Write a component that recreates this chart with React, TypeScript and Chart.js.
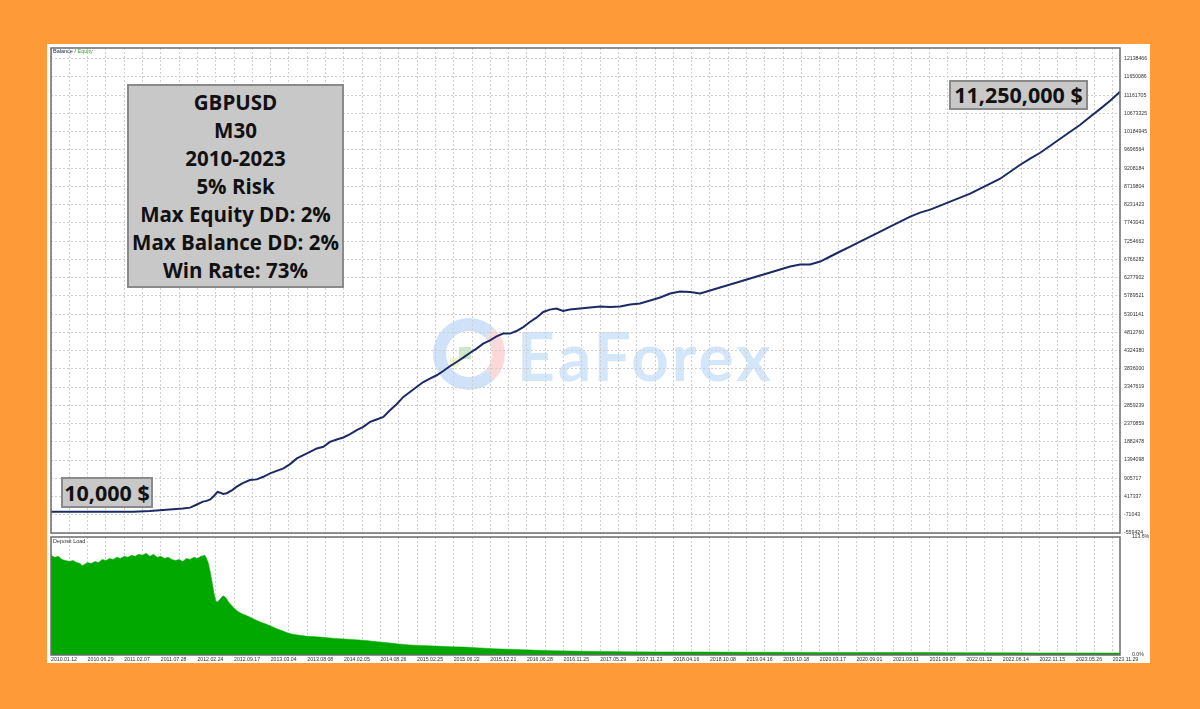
import React, { useEffect, useRef } from 'react';
import { Chart, registerables } from 'chart.js';
Chart.register(...registerables);

// ---------- data ----------
const xLabels = [
  '2010.01.12', '2010.06.29', '2011.02.07', '2011.07.28', '2012.02.24', '2012.09.17',
  '2013.03.04', '2013.08.08', '2014.02.05', '2014.08.26', '2015.02.25', '2015.06.22',
  '2015.12.21', '2016.06.28', '2016.11.25', '2017.05.29', '2017.11.23', '2018.04.16',
  '2018.10.08', '2019.04.16', '2019.10.18', '2020.03.17', '2020.09.01', '2021.03.11',
  '2021.09.07', '2022.01.12', '2022.06.14', '2022.11.15', '2023.05.26', '2023.11.29',
];

const balanceTicks = [
  -559424, -71043, 417337, 905717, 1394098, 1882478, 2370859, 2859239, 3347619,
  3836000, 4324380, 4812760, 5301141, 5789521, 6277902, 6766282, 7254662, 7743043,
  8231423, 8719804, 9208184, 9696564, 10184945, 10673325, 11161705, 11650086, 12138466,
];
const balanceMin = -559424;
const balanceMax = 12424000;

const loadTicks = [0, 113.6];

const equityIdx = [
  0, 9, 18, 27, 36, 45, 54, 63, 72, 76, 80, 83, 85, 87, 89, 91, 92.5, 94, 96, 99,
  101.5, 105, 108.7, 112.4, 116, 119.7, 123.3, 127, 130.6, 134.3, 137.9, 141.5, 145.2,
  148.8, 152.4, 156.1, 159.7, 163.4, 167, 170.6, 174.3, 177.9, 181.6, 185.2, 188.8,
  192.5, 196.1, 199.7, 203.4, 207, 210.7, 214.3, 217.9, 221.6, 225.2, 228.8, 232.5,
  236.1, 239.8, 243.4, 247, 250.7, 254.3, 258, 261.6, 265.2, 268.9, 272.5, 276.1,
  279.8, 283.4, 289, 294.5, 300, 305.4, 310.9, 316.4, 321.8, 327.3, 332.8, 338.2,
  343.7, 349.2, 354.6, 360.1, 365.5, 371, 376.5, 381.9, 387.4, 392.9, 398.3, 403.8,
  409.3, 414.7, 420.2, 425.7, 431.1, 436.6, 442, 447.5, 453, 458.4, 463.9, 469.4,
  474.8, 480.3, 485.8, 491.2, 496.7, 502.1, 507.6, 513.1, 518.5, 524, 529.5, 534.9,
  540.4, 545.9, 551.3, 556.8, 562.3, 567.7, 573.2, 578.6, 584,
];
const equityVal = [
  10000, 9800, 9400, 9100, 9000, 11000, 30000, 60000, 95000, 120000, 210000, 280000,
  300000, 340000, 430000, 540000, 520000, 485000, 505000, 590000, 680000, 785000,
  857000, 876000, 945000, 1036000, 1105000, 1169000, 1284000, 1436000, 1525000,
  1613000, 1704000, 1747000, 1880000, 1945000, 1998000, 2086000, 2193000, 2281000,
  2415000, 2479000, 2548000, 2727000, 2888000, 3083000, 3216000, 3350000, 3483000,
  3574000, 3663000, 3778000, 3904000, 4019000, 4136000, 4259000, 4377000, 4510000,
  4599000, 4706000, 4778000, 4778000, 4847000, 4954000, 5088000, 5205000, 5358000,
  5421000, 5448000, 5384000, 5421000, 5452000, 5479000, 5505000, 5492000, 5505000,
  5559000, 5585000, 5666000, 5746000, 5853000, 5906000, 5893000, 5853000, 5933000,
  6013000, 6093000, 6173000, 6254000, 6334000, 6414000, 6494000, 6574000, 6628000,
  6628000, 6708000, 6842000, 6976000, 7109000, 7243000, 7376000, 7510000, 7644000,
  7777000, 7911000, 8017000, 8098000, 8204000, 8311000, 8418000, 8524000, 8658000,
  8792000, 8925000, 9112000, 9299000, 9460000, 9620000, 9807000, 9994000, 10181000,
  10368000, 10582000, 10795000, 11009000, 11250000,
];

const loadIdx = [
  0, 2, 4, 6, 8, 10, 12, 14, 16, 17, 18, 20, 22, 24, 26, 28, 30, 32, 34, 36, 38, 40,
  42, 44, 46, 48, 50, 52, 54, 56, 58, 60, 62, 64, 66, 68, 70, 72, 74, 76, 78, 80, 82,
  84, 85, 86, 87, 88, 89, 90, 91, 92, 93, 94, 95, 96, 97, 98, 100, 102, 104, 106, 108,
  111, 114, 117, 120, 123, 126, 129, 132, 136, 140, 145, 150, 155, 160, 166, 172, 178,
  184, 190, 196, 202, 210, 218, 226, 234, 242, 250, 258, 266, 274, 282, 290, 300, 315,
  330, 345, 360, 380, 400, 420, 440, 460, 480, 500, 520, 540, 560, 584,
];
const loadPct = [
  96, 94, 95, 92, 91, 90, 91, 89, 88, 86, 87, 89, 88, 90, 89, 92, 91, 93, 92, 94, 93, 95,
  94, 96, 95, 97, 96, 98, 95, 97, 94, 95, 93, 94, 92, 91, 92, 90, 93, 92, 94, 93, 95,
  96, 93, 88, 80, 70, 60, 52, 51, 53, 55, 57, 56, 54, 51, 49, 45, 42, 40, 38.5, 37,
  34.5, 32, 30, 28, 25.5, 23.5, 21.5, 20, 19, 18, 17.5, 16.8, 16, 15.5, 14.8, 14, 12.8,
  11.8, 10.5, 9.7, 9.2, 8.6, 8.0, 7.6, 6.8, 6.0, 5.6, 5.0, 4.6, 4.2, 3.9, 3.6, 3.4, 3.1,
  3.0, 2.9, 2.8, 2.7, 2.6, 2.5, 2.4, 2.3, 2.3, 2.2, 2.1, 2.0, 2.0, 1.9,
];

const X_MAX = 584;
const GRID_STEP = 10;
const LABEL_STEP = 20;

// ---------- styling helpers ----------
const GRID_COLOR = '#cfcfcf';
const TICK_FONT = { family: 'Liberation Sans', size: 5.2 };
const TICK_COLOR = '#333';

const framePlugin = {
  id: 'frame',
  afterDraw(chart: any) {
    const { ctx, chartArea: a } = chart;
    ctx.save();
    ctx.strokeStyle = '#6c6c6c';
    ctx.lineWidth = 1.5;
    ctx.strokeRect(a.left, a.top, a.right - a.left, a.bottom - a.top);
    ctx.restore();
  },
};

function gridTicks() {
  const t: { value: number }[] = [];
  for (let v = 0; v <= X_MAX; v += GRID_STEP) t.push({ value: v });
  return t;
}

const fitY = (s: any) => {
  s.width = 30;
  s.paddingTop = 0;
  s.paddingBottom = 0;
};

function BalanceChart() {
  const ref = useRef<HTMLCanvasElement>(null);
  useEffect(() => {
    const chart = new Chart(ref.current!, {
      type: 'line',
      data: {
        datasets: [
          {
            label: 'Balance',
            data: equityIdx.map((x, i) => ({ x, y: equityVal[i] })),
            borderColor: '#1c2a66',
            borderWidth: 2,
            pointRadius: 0,
            tension: 0,
            fill: false,
          },
        ],
      },
      options: {
        animation: false,
        responsive: false,
        maintainAspectRatio: false,
        layout: { padding: { left: 4, top: 4, right: 0, bottom: 1 } },
        plugins: { legend: { display: false }, tooltip: { enabled: false } },
        scales: {
          x: {
            type: 'linear',
            min: 0,
            max: X_MAX,
            afterBuildTicks: (s: any) => { s.ticks = gridTicks(); },
            afterFit: (s: any) => { s.height = 0; s.paddingLeft = 0; s.paddingRight = 0; },
            ticks: { display: false },
            grid: { color: GRID_COLOR, drawTicks: false },
            border: { display: false, dash: [2, 2] },
          },
          y: {
            type: 'linear',
            position: 'right',
            min: balanceMin,
            max: balanceMax,
            afterBuildTicks: (s: any) => { s.ticks = balanceTicks.map((v) => ({ value: v })); },
            afterFit: fitY,
            ticks: {
              font: TICK_FONT,
              color: TICK_COLOR,
              padding: 4,
              autoSkip: false,
              callback: (v: any) => String(v),
            },
            grid: { color: GRID_COLOR, drawTicks: false },
            border: { display: false, dash: [2, 2] },
          },
        },
      },
      plugins: [framePlugin],
    });
    return () => chart.destroy();
  }, []);
  return <canvas ref={ref} width={1103} height={490} style={{ position: 'absolute', left: 47, top: 44 }} />;
}

function LoadChart() {
  const ref = useRef<HTMLCanvasElement>(null);
  useEffect(() => {
    const chart = new Chart(ref.current!, {
      type: 'line',
      data: {
        datasets: [
          {
            label: 'Deposit Load',
            data: loadIdx.map((x, i) => ({ x, y: loadPct[i] })),
            borderColor: '#00a800',
            backgroundColor: '#00a800',
            borderWidth: 0.5,
            pointRadius: 0,
            tension: 0,
            fill: 'origin',
          },
        ],
      },
      options: {
        animation: false,
        responsive: false,
        maintainAspectRatio: false,
        layout: { padding: { left: 4, top: 3, right: 0, bottom: 0 } },
        plugins: { legend: { display: false }, tooltip: { enabled: false } },
        scales: {
          x: {
            type: 'linear',
            min: 0,
            max: X_MAX,
            afterBuildTicks: (s: any) => { s.ticks = gridTicks(); },
            afterFit: (s: any) => { s.height = 8; s.paddingLeft = 0; s.paddingRight = 0; },
            ticks: {
              font: TICK_FONT,
              color: TICK_COLOR,
              align: 'start',
              autoSkip: false,
              maxRotation: 0,
              padding: 1,
              callback: (v: any) => (v % LABEL_STEP === 0 ? xLabels[v / LABEL_STEP] : ''),
            },
            grid: { color: GRID_COLOR, drawTicks: false },
            border: { display: false, dash: [2, 2] },
          },
          y: {
            type: 'linear',
            position: 'right',
            min: 0,
            max: 113.6,
            afterBuildTicks: (s: any) => { s.ticks = loadTicks.map((v) => ({ value: v })); },
            afterFit: fitY,
            ticks: {
              font: TICK_FONT,
              color: TICK_COLOR,
              padding: 4,
              callback: (v: any) => Number(v).toFixed(1) + '%',
            },
            grid: { display: false },
            border: { display: false },
          },
        },
      },
      plugins: [framePlugin],
    });
    return () => chart.destroy();
  }, []);
  return <canvas ref={ref} width={1103} height={129} style={{ position: 'absolute', left: 47, top: 534 }} />;
}

const boxText: React.CSSProperties = {
  fontFamily: '"Open Sans", "Noto Sans", sans-serif',
  fontWeight: 700,
  color: '#111',
};

export default function App() {
  return (
    <div style={{ position: 'fixed', left: 0, top: 0, width: 1200, height: 709, background: '#fe9a37', overflow: 'hidden' }}>
      <div style={{ position: 'absolute', left: 47, top: 44, width: 1103, height: 619, background: '#fff' }} />
      {/* watermark */}
      <div style={{ position: 'absolute', left: 433, top: 318, width: 46, height: 46, border: '13px solid rgba(110,165,240,0.32)', borderRightColor: 'rgba(240,120,120,0.28)', borderTopColor: 'rgba(110,165,240,0.32)', borderRadius: '50%' }} />
      <div style={{ position: 'absolute', left: 459, top: 347, width: 12, height: 12, background: 'rgba(110,180,90,0.32)' }} />
      <div style={{ position: 'absolute', left: 450, top: 358, width: 9, height: 9, background: 'rgba(200,220,90,0.3)' }} />
      <div style={{ position: 'absolute', left: 517, top: 314, fontFamily: 'Lato, sans-serif', fontWeight: 700, fontSize: 66, lineHeight: '84px', color: 'rgba(125,180,240,0.33)', letterSpacing: 3 }}>EaForex</div>

      <BalanceChart />
      <LoadChart />

      <div style={{ position: 'absolute', left: 53, top: 48, fontFamily: '"Liberation Sans", sans-serif', fontSize: 5.5, lineHeight: '7px', whiteSpace: 'nowrap' }}>
        <span style={{ color: '#1c2a66' }}>Balance</span>
        <span style={{ color: '#555' }}> / </span>
        <span style={{ color: '#3aa53a' }}>Equity</span>
      </div>
      <div style={{ position: 'absolute', left: 53, top: 538, fontFamily: '"Liberation Sans", sans-serif', fontSize: 5.5, lineHeight: '7px', color: '#333', whiteSpace: 'nowrap' }}>Deposit Load</div>

      <div style={{ position: 'absolute', left: 127, top: 84, width: 213, height: 198, background: '#c8c8c8', border: '2px solid #8a8a8a', textAlign: 'center', paddingTop: 2, boxSizing: 'content-box' }}>
        {['GBPUSD', 'M30', '2010-2023', '5% Risk', 'Max Equity DD: 2%', 'Max Balance DD: 2%', 'Win Rate: 73%'].map((t) => (
          <div key={t} style={{ ...boxText, fontSize: 20.5, lineHeight: '28px', whiteSpace: 'nowrap' }}>{t}</div>
        ))}
      </div>

      <div style={{ position: 'absolute', left: 949, top: 80, width: 135, height: 26, background: '#c8c8c8', border: '2px solid #8a8a8a', textAlign: 'center' }}>
        <div style={{ ...boxText, fontSize: 21.5, lineHeight: '26px', whiteSpace: 'nowrap' }}>11,250,000 $</div>
      </div>
      <div style={{ position: 'absolute', left: 61, top: 477, width: 88, height: 27, background: '#c8c8c8', border: '2px solid #8a8a8a', textAlign: 'center' }}>
        <div style={{ ...boxText, fontSize: 21.5, lineHeight: '27px', whiteSpace: 'nowrap' }}>10,000 $</div>
      </div>
    </div>
  );
}
